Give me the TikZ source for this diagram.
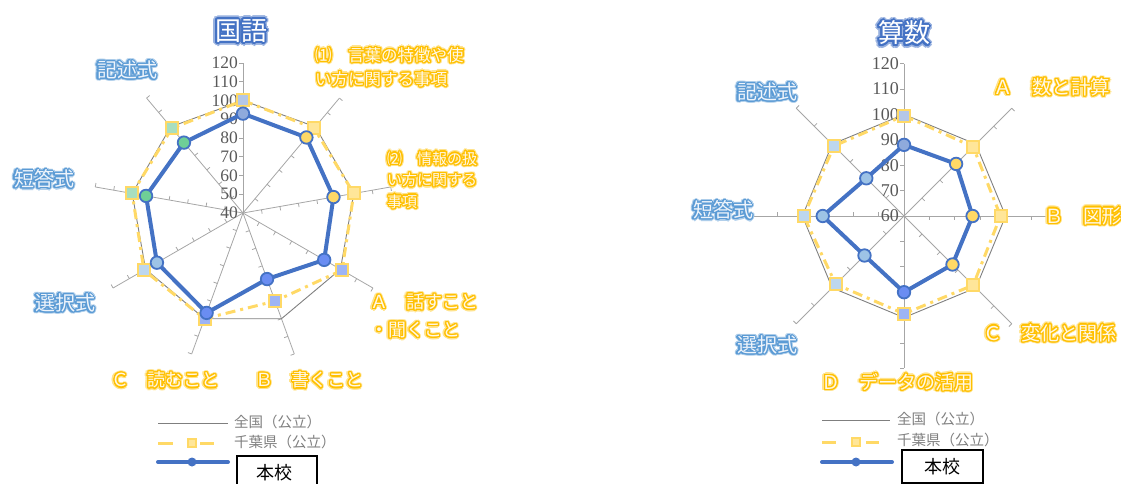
\documentclass[tikz,border=0pt]{standalone}
\usepackage{fontspec}
\setmainfont{Liberation Serif}
\newfontfamily\jp{Noto Sans CJK JP}
\usetikzlibrary{calc}
\definecolor{natgray}{HTML}{7F7F7F}
\definecolor{axgray}{HTML}{A6A6A6}
\definecolor{tickgray}{HTML}{595959}
\definecolor{chiba}{HTML}{FFD966}
\definecolor{school}{HTML}{4472C4}
\definecolor{lblue}{HTML}{5B9BD5}
\definecolor{dblue}{HTML}{4472C4}
\definecolor{orng}{HTML}{FFC000}
\definecolor{ylight}{HTML}{FFF8E6}
\definecolor{blight}{HTML}{EEF4FB}
\definecolor{sqB}{HTML}{B4C7E7}
\definecolor{sqY}{HTML}{FFE699}
\definecolor{sqP}{HTML}{9DB4F5}
\definecolor{sqL}{HTML}{BDD7EE}
\definecolor{sqM}{HTML}{A8DEC0}
\definecolor{ciB}{HTML}{8FAADC}
\definecolor{ciY}{HTML}{FFD966}
\definecolor{ciP}{HTML}{6A8DF2}
\definecolor{ciL}{HTML}{9DC3E6}
\definecolor{ciG}{HTML}{6FCF97}
\newdimen\hR \newdimen\hA \newdimen\hB \newdimen\hC
\newcommand\hc[3]{\rlap{\kern#1\raisebox{#2}{#3}}}
\newcommand\halo[3]{\begingroup\color{#1}\hR=#2\relax\hA=0.707\hR\hB=0.924\hR\hC=0.383\hR
\hc{\hR}{0pt}{#3}\hc{-\hR}{0pt}{#3}\hc{0pt}{\hR}{#3}\hc{0pt}{-\hR}{#3}%
\hc{\hA}{\hA}{#3}\hc{-\hA}{\hA}{#3}\hc{\hA}{-\hA}{#3}\hc{-\hA}{-\hA}{#3}%
\hc{\hB}{\hC}{#3}\hc{-\hB}{\hC}{#3}\hc{\hB}{-\hC}{#3}\hc{-\hB}{-\hC}{#3}%
\hc{\hC}{\hB}{#3}\hc{-\hC}{\hB}{#3}\hc{\hC}{-\hB}{#3}\hc{-\hC}{-\hB}{#3}%
\endgroup}
\newcommand\ylab[1]{\halo{orng!45}{2.4pt}{#1}\halo{orng}{1.2pt}{#1}\textcolor{ylight}{#1}}
\newcommand\blab[1]{\halo{lblue!50}{2.4pt}{#1}\halo{lblue}{1.2pt}{#1}\textcolor{blight}{#1}}
\newcommand\tlab[1]{\halo{dblue!55}{3.6pt}{#1}\halo{dblue}{2pt}{#1}\textcolor{white}{#1}}
\tikzset{
  axisline/.style={draw=axgray, line width=0.8pt},
  natline/.style={draw=natgray, line width=0.9pt, line join=round},
  chibaline/.style={draw=chiba, line width=3pt, dash pattern=on 10pt off 5pt on 3pt off 5pt, line join=round},
  schoolline/.style={draw=school, line width=4pt, line join=round},
  sqm/.style={rectangle, minimum size=12pt, inner sep=0pt, draw=chiba, line width=2pt},
  cim/.style={circle, minimum size=12.5pt, inner sep=0pt, draw=school, line width=1.8pt},
  ticklab/.style={anchor=east, inner sep=0pt, text=tickgray, font=\fontsize{17.5}{18}\selectfont},
  ylabL/.style={inner sep=0pt, font=\jp\fontsize{18}{28}\selectfont, align=left},
  blabel/.style={inner sep=0pt, font=\jp\fontsize{20}{24}\selectfont},
  titlelab/.style={inner sep=0pt, font=\jp\fontsize{26}{30}\selectfont},
  legtext/.style={anchor=west, inner sep=0pt, text=natgray, font=\jp\fontsize{14.5}{16}\selectfont},
  boxlab/.style={draw=black, line width=1.2pt, fill=white, inner sep=0pt, font=\jp\fontsize{18}{20}\selectfont},
}
\begin{document}
\begin{tikzpicture}[x=1pt, y=-1pt]
\useasboundingbox (0,0) rectangle (1121,484);
% ================= LEFT CHART (国語) =================
\begin{scope}[shift={(243,213)}]
  \coordinate (lo) at (0,0);
  \foreach \k in {0,...,8}{
    \pgfmathsetmacro\a{-90+40*\k}
    \coordinate (la\k) at (\a:150);
    \draw[axisline] (lo) -- (la\k);
    \pgfmathsetmacro\pa{ifthenelse(\k==0,\a-90,\a+90)}
    \foreach \v in {50,60,...,120}{
      \draw[axisline] (\a:{(\v-40)*1.875}) -- ++(\pa:4);
    }
    \coordinate (ln\k) at (\a:112.5);
  }
  \foreach \v in {40,50,...,120}{
    \node[ticklab] (ltl\v) at (-5,{-(\v-40)*1.875}) {\v};
  }
  \draw[natline] (ln0) -- (ln1) -- (ln2) -- (ln3) -- (ln4) -- (ln5) -- (ln6) -- (ln7) -- (ln8) -- cycle;
  \foreach \v [count=\i from 0] in {100,99,100,101,90,100,101,100,99}{
    \pgfmathsetmacro\a{-90+40*\i}
    \coordinate (lc\i) at (\a:{(\v-40)*1.875});
  }
  \foreach \v [count=\i from 0] in {93,92.6,89,90,77.5,96.7,93,92.5,89}{
    \pgfmathsetmacro\a{-90+40*\i}
    \coordinate (ls\i) at (\a:{(\v-40)*1.875});
  }
  \draw[chibaline] (lc0) -- (lc1) -- (lc2) -- (lc3) -- (lc4) -- (lc5) -- (lc6) -- (lc7) -- (lc8) -- cycle;
  \foreach \i/\f in {0/sqB,1/sqY,2/sqY,3/sqP,4/sqP,5/sqP,6/sqL,7/sqM,8/sqM}{
    \node[sqm, fill=\f] (LCm\i) at (lc\i) {};
  }
  \draw[schoolline] (ls0) -- (ls1) -- (ls2) -- (ls3) -- (ls4) -- (ls5) -- (ls6) -- (ls7) -- (ls8) -- cycle;
  \foreach \i/\f in {0/ciB,1/ciY,2/ciY,3/ciP,4/ciP,5/ciP,6/ciL,7/ciG,8/ciG}{
    \node[cim, fill=\f] (LSm\i) at (ls\i) {};
  }
\end{scope}
% labels left
\node[titlelab] (ltitle) at (241,31) {\tlab{国語}};
\node[blabel] (lkij) at (127,70) {\blab{記述式}};
\node[blabel] (ltan) at (44,179) {\blab{短答式}};
\node[blabel] (lsen) at (65,303) {\blab{選択式}};
\node[ylabL, anchor=west] (lC) at (111,380) {\ylab{Ｃ　読むこと}};
\node[ylabL, anchor=west] (lB) at (255,380) {\ylab{Ｂ　書くこと}};
\node[ylabL, anchor=west] (lA) at (370,316) {\ylab{Ａ　話すこと}\\\ylab{・聞くこと}};
\node[inner sep=0pt, font=\jp\fontsize{16.5}{24}\selectfont, align=left, anchor=west] (l1) at (315,67) {\ylab{⑴　言葉の特徴や使}\\\ylab{い方に関する事項}};
\node[inner sep=0pt, font=\jp\fontsize{15}{21.5}\selectfont, align=left, anchor=west] (l2) at (387,180) {\ylab{⑵　情報の扱}\\\ylab{い方に関する}\\\ylab{事項}};
% legend left
\coordinate (lg1a) at (158,423); \coordinate (lg1b) at (228,423);
\draw[natline] (lg1a) -- (lg1b);
\node[legtext] (lgt1) at (234,422) {全国（公立）};
\coordinate (lg2a) at (158,443); \coordinate (lg2b) at (173,443);
\coordinate (lg2c) at (200,443); \coordinate (lg2d) at (214,443);
\draw[draw=chiba, line width=3pt] (lg2a) -- (lg2b) (lg2c) -- (lg2d);
\node[sqm, minimum size=8pt, line width=1.5pt, fill=sqY] (lgs) at (192,443) {};
\node[legtext] (lgt2) at (234,442) {千葉県（公立）};
\coordinate (lg3a) at (158,462); \coordinate (lg3b) at (228,462);
\draw[schoolline, line cap=round] (lg3a) -- (lg3b);
\node[circle, fill=school, minimum size=9pt, inner sep=0pt] (lgc) at (192,462) {};
\node[boxlab, minimum width=80pt, minimum height=34pt] (lbox) at (277,473) {};
\node[inner sep=0pt, font=\jp\fontsize{18}{20}\selectfont] (lboxt) at (274,473) {本校};
% ================= RIGHT CHART (算数) =================
\begin{scope}[shift={(904,216)}]
  \coordinate (ro) at (0,0);
  \foreach \k in {0,...,7}{
    \pgfmathsetmacro\a{-90+45*\k}
    \coordinate (ra\k) at (\a:152.4);
    \draw[axisline] (ro) -- (ra\k);
    \pgfmathsetmacro\pa{ifthenelse(\k==0,\a-90,\a+90)}
    \foreach \v in {70,80,...,120}{
      \draw[axisline] (\a:{(\v-60)*2.54}) -- ++(\pa:4);
    }
    \coordinate (rn\k) at (\a:101.6);
  }
  \foreach \v in {60,70,...,120}{
    \node[ticklab, font=\fontsize{18}{19}\selectfont] (rtl\v) at (-5,{-(\v-60)*2.54}) {\v};
  }
  \draw[natline] (rn0) -- (rn1) -- (rn2) -- (rn3) -- (rn4) -- (rn5) -- (rn6) -- (rn7) -- cycle;
  \foreach \v [count=\i from 0] in {99.5,98.5,98,98.5,98.5,98,99.5,99}{
    \pgfmathsetmacro\a{-90+45*\i}
    \coordinate (rc\i) at (\a:{(\v-60)*2.54});
  }
  \foreach \v [count=\i from 0] in {88,89,87,87,90,82,92,81}{
    \pgfmathsetmacro\a{-90+45*\i}
    \coordinate (rs\i) at (\a:{(\v-60)*2.54});
  }
  \draw[chibaline] (rc0) -- (rc1) -- (rc2) -- (rc3) -- (rc4) -- (rc5) -- (rc6) -- (rc7) -- cycle;
  \foreach \i/\f in {0/sqB,1/sqY,2/sqY,3/sqY,4/sqP,5/sqL,6/sqL,7/sqL}{
    \node[sqm, fill=\f] (RCm\i) at (rc\i) {};
  }
  \draw[schoolline] (rs0) -- (rs1) -- (rs2) -- (rs3) -- (rs4) -- (rs5) -- (rs6) -- (rs7) -- cycle;
  \foreach \i/\f in {0/ciB,1/ciY,2/ciY,3/ciY,4/ciP,5/ciL,6/ciL,7/ciL}{
    \node[cim, fill=\f] (RSm\i) at (rs\i) {};
  }
\end{scope}
% labels right
\node[titlelab] (rtitle) at (904,33) {\tlab{算数}};
\node[blabel] (rkij) at (767,92) {\blab{記述式}};
\node[blabel] (rtan) at (723,210) {\blab{短答式}};
\node[blabel] (rsen) at (767,345) {\blab{選択式}};
\node[ylabL, font=\jp\fontsize{19.5}{24}\selectfont, anchor=west] (rA) at (993,87) {\ylab{Ａ　数と計算}};
\node[ylabL, font=\jp\fontsize{19.5}{24}\selectfont, anchor=west] (rB) at (1044,216) {\ylab{Ｂ　図形}};
\node[ylabL, font=\jp\fontsize{19}{24}\selectfont, anchor=west] (rC) at (983,333) {\ylab{Ｃ　変化と関係}};
\node[ylabL, font=\jp\fontsize{19}{24}\selectfont, anchor=west] (rD) at (821,382) {\ylab{Ｄ　データの活用}};
% legend right
\coordinate (rg1a) at (822,420); \coordinate (rg1b) at (890,420);
\draw[natline] (rg1a) -- (rg1b);
\node[legtext] (rgt1) at (897,419) {全国（公立）};
\coordinate (rg2a) at (822,442); \coordinate (rg2b) at (836,442);
\coordinate (rg2c) at (866,442); \coordinate (rg2d) at (879,442);
\draw[draw=chiba, line width=3pt] (rg2a) -- (rg2b) (rg2c) -- (rg2d);
\node[sqm, minimum size=8pt, line width=1.5pt, fill=sqY] (rgs) at (856,442) {};
\node[legtext] (rgt2) at (897,440) {千葉県（公立）};
\coordinate (rg3a) at (822,462); \coordinate (rg3b) at (892,462);
\draw[schoolline, line cap=round] (rg3a) -- (rg3b);
\node[circle, fill=school, minimum size=9pt, inner sep=0pt] (rgc) at (856,462) {};
\node[boxlab, minimum width=81pt, minimum height=33pt] (rbox) at (942.5,466.5) {本校};
\end{tikzpicture}
\end{document}
